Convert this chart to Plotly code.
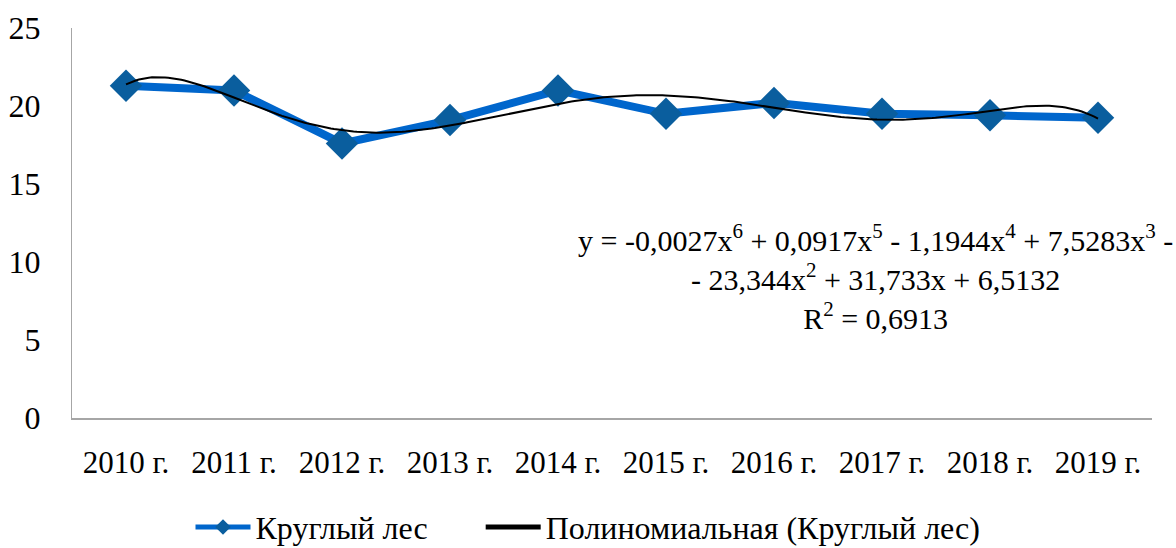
import numpy as np
import plotly.graph_objects as go

years = ["2010 г.", "2011 г.", "2012 г.", "2013 г.", "2014 г.",
         "2015 г.", "2016 г.", "2017 г.", "2018 г.", "2019 г."]
values = [21.3, 21.0, 17.6, 19.1, 21.0, 19.5, 20.2, 19.5, 19.4, 19.25]
series_name = "Круглый лес"
trend_name = "Полиномиальная (Круглый лес)"
y_ticks = [0, 5, 10, 15, 20, 25]
equation_text = ("y = -0,0027x<sup>6</sup> + 0,0917x<sup>5</sup> - 1,1944x<sup>4</sup> + 7,5283x<sup>3</sup> -<br>"
                 "- 23,344x<sup>2</sup> + 31,733x + 6,5132<br>R<sup>2</sup> = 0,6913")

x = np.arange(1, len(values) + 1)
coef = np.polyfit(x, values, 6)
xs = np.linspace(1, len(values), 300)
ys = np.polyval(coef, xs)

FONT = "Liberation Serif"
GAP = "\u00a0" * 6

fig = go.Figure()
fig.add_trace(go.Scatter(
    x=x, y=values, mode="lines+markers", name=series_name + GAP,
    line=dict(color="#0066CC", width=8),
    marker=dict(symbol="diamond", size=25, color="#0A5E9E"),
))
fig.add_trace(go.Scatter(
    x=xs, y=ys, mode="lines", name=trend_name,
    line=dict(color="black", width=2),
))

fig.add_annotation(
    xref="paper", yref="paper",
    x=(875 - 72) / 1080, y=(418 - 277) / 390,
    xanchor="center", yanchor="middle", align="center",
    text=equation_text, showarrow=False,
    font=dict(family=FONT, size=30, color="black"),
)

fig.update_layout(
    width=1176, height=548,
    margin=dict(l=72, r=24, t=28, b=130, autoexpand=False),
    paper_bgcolor="white", plot_bgcolor="white",
    font=dict(family=FONT, size=31, color="black"),
    showlegend=True,
    legend=dict(orientation="h", x=0.5, xanchor="center", xref="container",
                y=0.038, yanchor="middle", yref="container",
                font=dict(family=FONT, size=32), itemwidth=55, tracegroupgap=0,
                itemsizing="constant"),
)
fig.update_xaxes(
    range=[0.5, len(values) + 0.5], tickmode="array", tickvals=list(x), ticktext=years,
    showgrid=False, zeroline=False, showline=True, linecolor="#A6A6A6", linewidth=2,
    ticks="", ticklabelstandoff=16, tickfont=dict(family=FONT, size=31),
    automargin=False,
)
fig.update_yaxes(
    range=[0, 25], tickmode="array", tickvals=y_ticks,
    showgrid=False, zeroline=False, showline=True, linecolor="#A6A6A6", linewidth=1,
    ticks="", ticklabelstandoff=24, tickfont=dict(family=FONT, size=32),
    automargin=False,
)

fig.write_html("out.html", post_script="document.body.style.margin='0';",
               config={"displayModeBar": False})
